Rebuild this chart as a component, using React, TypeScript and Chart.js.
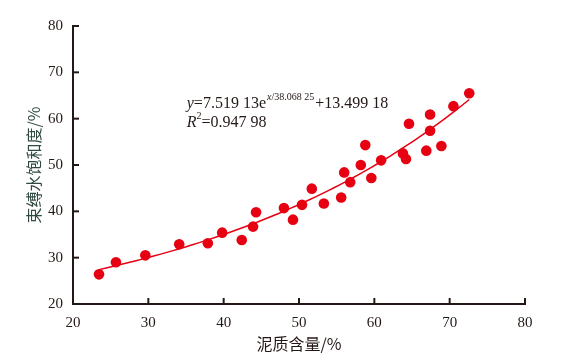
import React, { useEffect, useRef } from "react";
import { Chart, registerables } from "chart.js";

Chart.register(...registerables);

// Measured samples: clay content (%) vs irreducible water saturation (%)
const clayContent = [
  23.45, 25.7, 29.6, 34.1, 37.9, 39.8, 42.4, 43.9, 44.3, 48.0,
  49.2, 50.4, 51.7, 53.3, 55.6, 56.0, 56.8, 58.2, 58.8, 59.6,
  60.9, 63.8, 64.2, 64.6, 66.9, 67.4, 67.4, 68.9, 70.5, 72.6,
];
const waterSaturation = [
  26.4, 29.0, 30.5, 32.9, 33.1, 35.4, 33.8, 36.7, 39.8, 40.7,
  38.2, 41.4, 44.9, 41.7, 43.0, 48.4, 46.3, 50.0, 54.3, 47.2,
  51.0, 52.5, 51.3, 58.9, 53.1, 60.9, 57.4, 54.1, 62.7, 65.5,
];

// Fitted curve y = A * exp(x / B) + C, as printed on the chart
const fitA = 7.51913;
const fitB = 38.06825;
const fitC = 13.49918;
const fitXStart = 23.45;
const fitXEnd = 72.6;
const fitSteps = 60;

const xTicks = [20, 30, 40, 50, 60, 70, 80];
const yTicks = [20, 30, 40, 50, 60, 70, 80];

const xTitle = "泥质含量/%";
const yTitle = "束缚水饱和度/%";

const AXIS_COLOR = "#231815";
const RED = "#e60012";
const SERIF = "'Liberation Serif', 'Times New Roman', serif";
const CJK = "'Noto Sans CJK SC', sans-serif";

function buildFit() {
  const pts: { x: number; y: number }[] = [];
  for (let i = 0; i <= fitSteps; i++) {
    const x = fitXStart + ((fitXEnd - fitXStart) * i) / fitSteps;
    pts.push({ x, y: fitA * Math.exp(x / fitB) + fitC });
  }
  return pts;
}

const innerTicks = {
  id: "innerTicks",
  afterDraw(chart: any) {
    const { ctx, chartArea, scales } = chart;
    ctx.save();
    ctx.strokeStyle = AXIS_COLOR;
    ctx.lineWidth = 2;
    const len = 6;
    xTicks.forEach((v) => {
      const px = scales.x.getPixelForValue(v);
      ctx.beginPath();
      ctx.moveTo(px, chartArea.bottom);
      ctx.lineTo(px, chartArea.bottom - len);
      ctx.stroke();
    });
    yTicks.forEach((v) => {
      const py = scales.y.getPixelForValue(v);
      ctx.beginPath();
      ctx.moveTo(chartArea.left, py);
      ctx.lineTo(chartArea.left + len, py);
      ctx.stroke();
    });
    ctx.restore();
  },
};

const equationLabel = {
  id: "equationLabel",
  afterDraw(chart: any) {
    const { ctx, scales } = chart;
    const x0 = scales.x.getPixelForValue(35.1);
    const y1 = scales.y.getPixelForValue(62.3);
    const y2 = y1 + 19;
    ctx.save();
    ctx.fillStyle = AXIS_COLOR;
    ctx.textBaseline = "alphabetic";
    ctx.textAlign = "left";
    const draw = (text: string, x: number, y: number, size: number, italic = false) => {
      ctx.font = `${italic ? "italic " : ""}${size}px ${SERIF}`;
      ctx.fillText(text, x, y);
      return x + ctx.measureText(text).width;
    };
    let x = x0;
    x = draw("y", x, y1, 16, true);
    x = draw("=7.519 13e", x, y1, 16);
    x += 1;
    x = draw("x", x, y1 - 8, 10, true);
    x = draw("/38.068 25", x, y1 - 8, 10);
    x += 1;
    draw("+13.499 18", x, y1, 16);
    x = x0;
    x = draw("R", x, y2, 16, true);
    x = draw("2", x, y2 - 8, 10);
    draw("=0.947 98", x, y2, 16);
    ctx.restore();
  },
};

export default function App() {
  const ref = useRef<HTMLCanvasElement | null>(null);
  useEffect(() => {
    if (!ref.current) return;
    const chart = new Chart(ref.current, {
      type: "scatter",
      data: {
        datasets: [
          {
            type: "line",
            data: buildFit(),
            borderColor: RED,
            borderWidth: 1.5,
            pointRadius: 0,
            fill: false,
            tension: 0,
          } as any,
          {
            type: "scatter",
            data: clayContent.map((x, i) => ({ x, y: waterSaturation[i] })),
            backgroundColor: RED,
            borderColor: RED,
            borderWidth: 0,
            pointRadius: 5.3,
          },
        ],
      },
      options: {
        responsive: false,
        animation: false,
        layout: { padding: { top: 26, right: 47, left: 0, bottom: 0 } },
        plugins: { legend: { display: false }, tooltip: { enabled: false } },
        scales: {
          x: {
            type: "linear",
            min: 20,
            max: 80,
            afterFit: (s: any) => { s.height = 58; },
            afterBuildTicks: (s: any) => { s.ticks = xTicks.map((v) => ({ value: v })); },
            grid: { display: false, drawTicks: false },
            border: { display: true, color: AXIS_COLOR, width: 2 },
            ticks: { color: AXIS_COLOR, padding: 10, font: { family: SERIF, size: 15 } },
            title: {
              display: true,
              text: xTitle,
              color: AXIS_COLOR,
              font: { family: CJK, size: 16 },
              padding: { top: 8, bottom: 8 },
            },
          },
          y: {
            type: "linear",
            min: 20,
            max: 80,
            afterFit: (s: any) => { s.width = 73; },
            afterBuildTicks: (s: any) => { s.ticks = yTicks.map((v) => ({ value: v })); },
            grid: { display: false, drawTicks: false },
            border: { display: true, color: AXIS_COLOR, width: 2 },
            ticks: { color: AXIS_COLOR, padding: 10, font: { family: SERIF, size: 15 } },
            title: {
              display: true,
              text: yTitle,
              color: "#2f4a3e",
              font: { family: CJK, size: 16 },
              padding: { top: 24, bottom: 24 },
            },
          },
        },
      },
      plugins: [innerTicks, equationLabel],
    });
    return () => chart.destroy();
  }, []);
  return (
    <div style={{ position: "absolute", left: 0, top: 0, width: 572, height: 362, background: "#fff" }}>
      <canvas ref={ref} width={572} height={362} />
    </div>
  );
}
